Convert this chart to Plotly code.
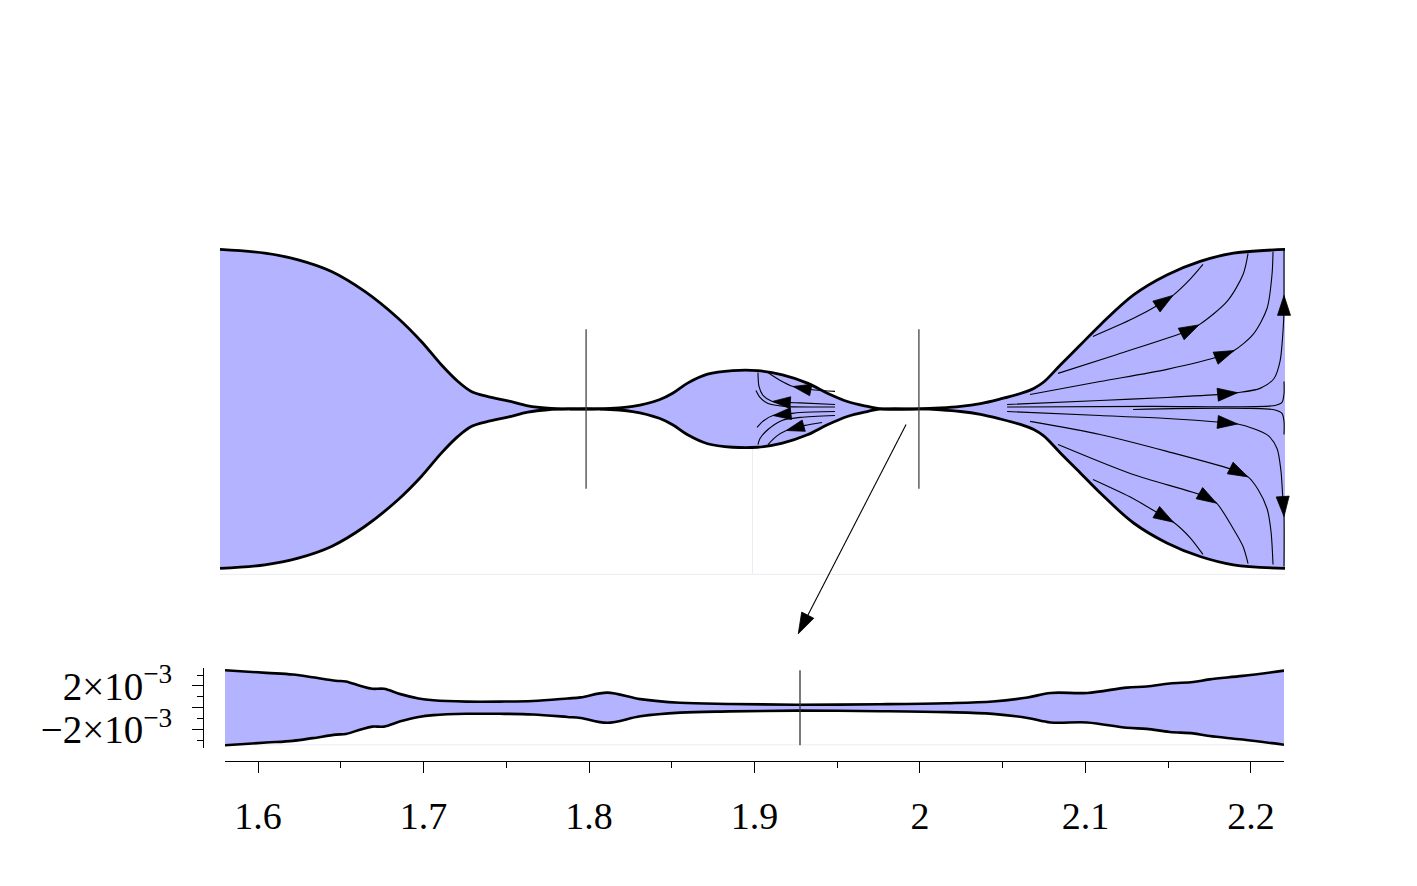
import plotly.graph_objects as go

# ---------------- data ----------------
# upper panel: half-width profile of the channel (normalised, 1 = bulb radius)
top_x = [1.580, 1.607, 1.627, 1.647, 1.667, 1.687, 1.701, 1.713, 1.723, 1.731,
         1.741, 1.753, 1.765, 1.777, 1.790, 1.808, 1.828, 1.844, 1.852, 1.861,
         1.873, 1.888, 1.903, 1.918, 1.933, 1.945, 1.957, 1.969, 1.977, 2.000,
         2.013, 2.025, 2.037, 2.049, 2.061, 2.069, 2.075, 2.085, 2.097, 2.109,
         2.129, 2.149, 2.169, 2.189, 2.220]
top_hw = [1.000, 0.977, 0.935, 0.862, 0.737, 0.569, 0.423, 0.277, 0.172, 0.110,
          0.078, 0.051, 0.020, 0.005, 0.000, 0.000, 0.016, 0.058, 0.099, 0.162,
          0.218, 0.240, 0.240, 0.214, 0.162, 0.099, 0.047, 0.016, 0.000, 0.000,
          0.006, 0.016, 0.034, 0.063, 0.097, 0.129, 0.169, 0.276, 0.401, 0.527,
          0.715, 0.840, 0.925, 0.977, 1.000]

# lower panel: zoomed half-width profile (units of 1e-3)
zoom_x = [1.580, 1.605, 1.621, 1.633, 1.647, 1.653, 1.662, 1.669, 1.676, 1.686,
          1.697, 1.706, 1.726, 1.746, 1.766, 1.787, 1.795, 1.811, 1.831, 1.855,
          1.885, 1.927, 1.976, 2.016, 2.044, 2.065, 2.079, 2.101, 2.125, 2.137,
          2.151, 2.165, 2.175, 2.195, 2.220]
zoom_hw = [3.45, 3.21, 3.05, 2.80, 2.48, 2.42, 2.00, 1.74, 1.74, 1.25,
           0.85, 0.68, 0.56, 0.56, 0.62, 0.85, 0.95, 1.39, 0.79, 0.45,
           0.34, 0.27, 0.32, 0.41, 0.57, 0.94, 1.36, 1.36, 1.85, 1.95,
           2.23, 2.36, 2.61, 2.93, 3.41]
zoom_scale = 1e-3

cut_x = [1.8, 2.0]          # vertical markers in the upper panel
cut_half = 0.5
zoom_cut = 1.9275           # vertical marker in the lower panel
zoom_cut_half = 3.45e-3

# connector arrow (upper-panel coordinates)
link_x = [1.9923, 1.9275]
link_y = [-0.097, -1.41]

x_ticks = [1.6, 1.7, 1.8, 1.9, 2.0, 2.1, 2.2]
x_ticktext = ["1.6", "1.7", "1.8", "1.9", "2", "2.1", "2.2"]
y_ticks = [-2e-3, 0, 2e-3]
y_ticktext = ["\u22122\u00d710<sup>\u22123</sup>", "", "2\u00d710<sup>\u22123</sup>"]
y_minor = [-3e-3, -1e-3, 1e-3, 3e-3]

# streamlines in the right bulb  (x, y, indices carrying an arrow head)
U1_x = [2.1046, 2.1287, 2.1449, 2.1527, 2.1629, 2.1707]
U1_y = [0.455, 0.567, 0.658, 0.712, 0.812, 0.906]
U1_a = [3]
U2_x = [2.0836, 2.1191, 2.1605, 2.1683, 2.1852, 2.1948, 2.1978]
U2_y = [0.223, 0.342, 0.486, 0.527, 0.674, 0.843, 0.975]
U2_a = [3]
U3_x = [2.0668, 2.1088, 2.1491, 2.1816, 2.1894, 2.2008, 2.2092, 2.2122, 2.2128]
U3_y = [0.091, 0.172, 0.248, 0.333, 0.366, 0.467, 0.630, 0.843, 0.987]
U3_a = [4]
U4_x = [2.0530, 2.1088, 2.1491, 2.1828, 2.1915, 2.2050, 2.2134, 2.2170, 2.2188, 2.2194, 2.2194, 2.2194]
U4_y = [0.028, 0.053, 0.072, 0.093, 0.102, 0.129, 0.191, 0.298, 0.486, 0.624, 0.712, 1.000]
U4_a = [4, 10]
U5_x = [2.0530, 2.1389, 2.2140, 2.2182, 2.2194, 2.2194]
U5_y = [0.0125, 0.016, 0.022, 0.041, 0.097, 0.172]
U5_a = []
C2_x = [2.1287, 2.2140, 2.2182, 2.2194, 2.2194]
C2_y = [-0.003, -0.006, -0.028, -0.078, -0.160]
C2_a = []
L4_x = [2.0530, 2.1088, 2.1491, 2.1828, 2.1915, 2.2008, 2.2098, 2.2152, 2.2176, 2.2188, 2.2194, 2.2194]
L4_y = [-0.016, -0.041, -0.060, -0.085, -0.094, -0.122, -0.166, -0.248, -0.392, -0.580, -0.674, -0.987]
L4_a = [4, 10]
L3_x = [2.0668, 2.1088, 2.1491, 2.1900, 2.1978, 2.2038, 2.2092, 2.2116, 2.2128]
L3_y = [-0.078, -0.160, -0.266, -0.386, -0.426, -0.505, -0.624, -0.768, -0.975]
L3_a = [4]
L2_x = [2.0836, 2.1287, 2.1716, 2.1789, 2.1888, 2.1948, 2.1978]
L2_y = [-0.223, -0.411, -0.547, -0.591, -0.749, -0.862, -0.969]
L2_a = [3]
L1_x = [2.1046, 2.1287, 2.1457, 2.1530, 2.1629, 2.1707]
L1_y = [-0.442, -0.561, -0.666, -0.710, -0.806, -0.912]
L1_a = [3]

# streamlines in the small bulb (flow towards the left)
A_x = [1.9496, 1.9376, 1.9322, 1.9244, 1.9167, 1.9119, 1.9089]
A_y = [0.110, 0.119, 0.125, 0.141, 0.179, 0.210, 0.232]
A_a = [3]
B_x = [1.9496, 1.9286, 1.9209, 1.9119, 1.9063, 1.9039, 1.9033]
B_y = [0.028, 0.038, 0.041, 0.047, 0.085, 0.141, 0.229]
B_a = [3]
E_x = [1.9496, 1.9195, 1.9093, 1.9045, 1.9021]
E_y = [0.0125, 0.016, 0.034, 0.072, 0.116]
E_a = []
Cc_x = [1.9496, 1.9286, 1.9215, 1.9123, 1.9069, 1.9027]
Cc_y = [-0.016, -0.022, -0.031, -0.041, -0.072, -0.116]
Cc_a = [3]
G_x = [1.9496, 1.9286, 1.9177, 1.9093, 1.9045, 1.9033]
G_y = [-0.041, -0.053, -0.072, -0.129, -0.185, -0.223]
G_a = []
D_x = [1.9418, 1.9316, 1.9280, 1.9203, 1.9143, 1.9093]
D_y = [-0.085, -0.103, -0.113, -0.135, -0.172, -0.223]
D_a = [3]

big_streams = [(U1_x, U1_y, U1_a), (U2_x, U2_y, U2_a), (U3_x, U3_y, U3_a),
               (U4_x, U4_y, U4_a), (U5_x, U5_y, U5_a), (C2_x, C2_y, C2_a),
               (L4_x, L4_y, L4_a), (L3_x, L3_y, L3_a), (L2_x, L2_y, L2_a),
               (L1_x, L1_y, L1_a)]
small_streams = [(A_x, A_y, A_a), (B_x, B_y, B_a), (E_x, E_y, E_a),
                 (Cc_x, Cc_y, Cc_a), (G_x, G_y, G_a), (D_x, D_y, D_a)]

# ---------------- style ----------------
FILL = "#b3b3ff"
FONT = "Liberation Serif"
faint = "#ececf4"

fig = go.Figure()

# faint frame lines of the underlying plots
fig.add_trace(go.Scatter(x=[top_x[0], top_x[-1]], y=[-1.0376, -1.0376], mode="lines",
                         line=dict(color=faint, width=1), xaxis="x2", yaxis="y2", hoverinfo="skip"))
fig.add_trace(go.Scatter(x=[1.9, 1.9], y=[-0.24, -1.0376], mode="lines",
                         line=dict(color=faint, width=1), xaxis="x2", yaxis="y2", hoverinfo="skip"))
fig.add_trace(go.Scatter(x=[zoom_x[0], zoom_x[-1]], y=[-3.42e-3, -3.42e-3], mode="lines",
                         line=dict(color=faint, width=1), xaxis="x", yaxis="y", hoverinfo="skip"))


def add_profile(xs, hw, scale, xa, ya, width):
    lo = [-h * scale for h in hw]
    up = [h * scale for h in hw]
    ln = dict(color="black", width=width, shape="spline", smoothing=1)
    fig.add_trace(go.Scatter(x=xs, y=lo, mode="lines", line=ln, xaxis=xa, yaxis=ya, hoverinfo="skip"))
    fig.add_trace(go.Scatter(x=xs, y=up, mode="lines", line=ln, fill="tonexty",
                             fillcolor=FILL, xaxis=xa, yaxis=ya, hoverinfo="skip"))


add_profile(top_x, top_hw, 1.0, "x2", "y2", 2.8)
add_profile(zoom_x, zoom_hw, zoom_scale, "x", "y", 2.6)


def add_streams(group, head):
    for sx, sy, sa in group:
        sizes = [head if i in sa else 0 for i in range(len(sx))]
        fig.add_trace(go.Scatter(
            x=sx, y=sy, mode="lines+markers",
            line=dict(color="black", width=1.1, shape="spline", smoothing=0.8),
            marker=dict(symbol="arrow", angleref="previous", size=sizes, color="#000000",
                        opacity=1, line=dict(width=0.8, color="#000000")),
            cliponaxis=False, xaxis="x2", yaxis="y2", hoverinfo="skip"))


add_streams(big_streams, 21)
add_streams(small_streams, 19)

for cx in cut_x:
    fig.add_trace(go.Scatter(x=[cx, cx], y=[-cut_half, cut_half], mode="lines",
                             line=dict(color="#444444", width=1.3), xaxis="x2", yaxis="y2",
                             hoverinfo="skip"))
fig.add_trace(go.Scatter(x=[zoom_cut, zoom_cut], y=[-zoom_cut_half, zoom_cut_half], mode="lines",
                         line=dict(color="#333333", width=1.3), xaxis="x", yaxis="y",
                         hoverinfo="skip"))

# connector arrow
fig.add_trace(go.Scatter(x=link_x, y=link_y, mode="lines+markers",
                         line=dict(color="black", width=1.1),
                         marker=dict(symbol="arrow", angleref="previous", size=[0, 22],
                                     color="#000000", opacity=1,
                                     line=dict(width=0.8, color="#000000")),
                         cliponaxis=False, xaxis="x2", yaxis="y2", hoverinfo="skip"))

W, H = 1417, 886
fig.update_layout(
    width=W, height=H,
    margin=dict(l=0, r=0, t=0, b=0),
    paper_bgcolor="white", plot_bgcolor="rgba(0,0,0,0)",
    showlegend=False, hovermode=False,
    font=dict(family=FONT, color="black"),
    xaxis=dict(domain=[225 / W, 1284 / W], range=[1.58, 2.22], anchor="free",
               position=1 - 762 / H, showline=True, linecolor="black", linewidth=1,
               ticks="outside", ticklen=11, tickwidth=1, tickcolor="black",
               tickmode="array", tickvals=x_ticks, ticktext=x_ticktext,
               tickfont=dict(family=FONT, size=38, color="black"), ticklabelstandoff=11,
               minor=dict(ticks="outside", ticklen=6, tickwidth=1, tickcolor="black",
                          dtick=0.05, tick0=1.55, showgrid=False),
               showgrid=False, zeroline=False),
    yaxis=dict(domain=[1 - 749 / H, 1 - 668 / H],
               range=[-(749 - 708.5) / 11 * 1e-3, (708.5 - 668) / 11 * 1e-3],
               anchor="free", position=203 / W, side="left",
               showline=True, linecolor="black", linewidth=1,
               ticks="outside", ticklen=11, tickwidth=1, tickcolor="black",
               tickmode="array", tickvals=y_ticks, ticktext=y_ticktext,
               tickfont=dict(family=FONT, size=39, color="black"), ticklabelstandoff=12,
               minor=dict(ticks="outside", ticklen=6, tickwidth=1, tickcolor="black",
                          tickmode="array", tickvals=y_minor, showgrid=False),
               showgrid=False, zeroline=False),
    xaxis2=dict(domain=[215 / W, 1290 / W], range=[1.58 - 5 / 1664, 2.22 + 5 / 1664],
                anchor="y2", visible=False),
    yaxis2=dict(domain=[1 - 640 / H, 1 - 240 / H],
                range=[(406 - 640) / 161.5, (406 - 240) / 161.5],
                anchor="x2", visible=False),
)

fig.write_html("out.html")
